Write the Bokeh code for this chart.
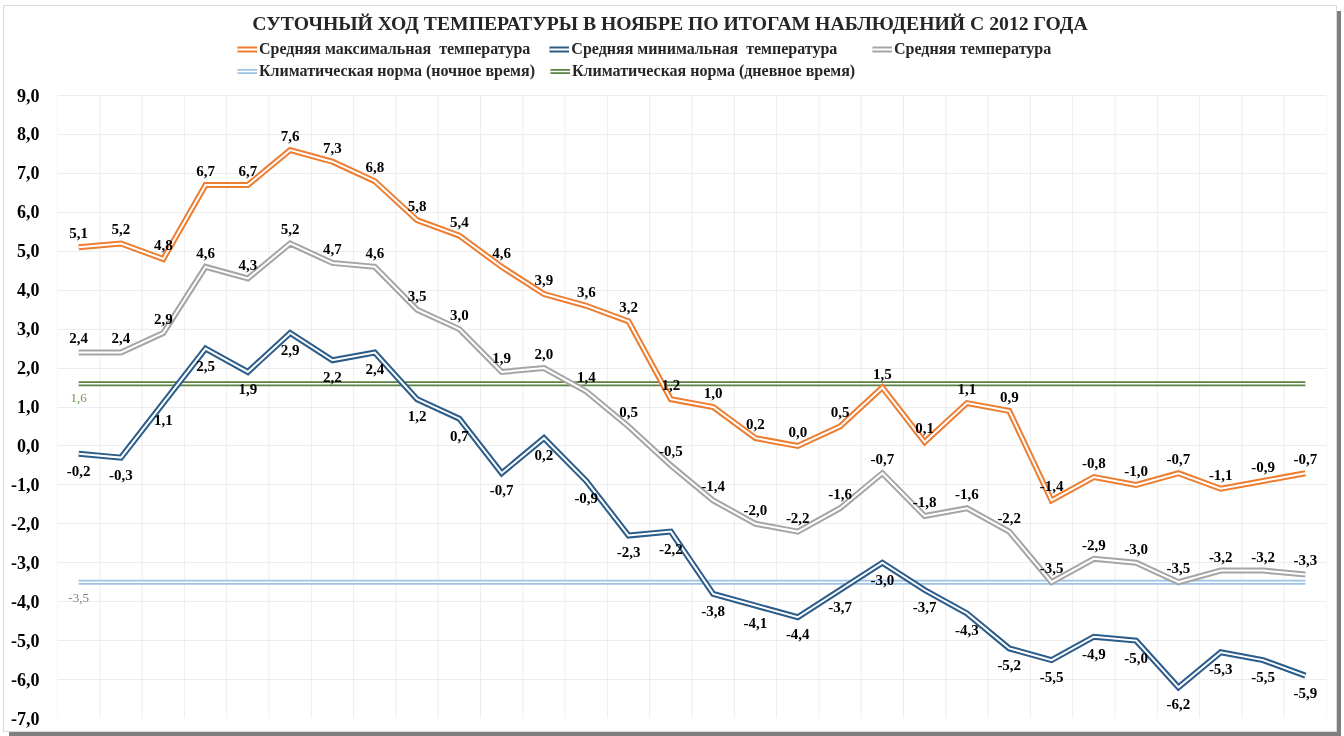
from bokeh.plotting import figure
from bokeh.models import (Range1d, FixedTicker, CustomJSTickFormatter, Legend, LegendItem)
from bokeh.core.properties import value
from bokeh.embed import file_html
from bokeh.resources import INLINE

days = list(range(1, 31))
t_max = [5.1, 5.2, 4.8, 6.7, 6.7, 7.6, 7.3, 6.8, 5.8, 5.4, 4.6, 3.9, 3.6, 3.2, 1.2,
         1.0, 0.2, 0.0, 0.5, 1.5, 0.1, 1.1, 0.9, -1.4, -0.8, -1.0, -0.7, -1.1, -0.9, -0.7]
t_min = [-0.2, -0.3, 1.1, 2.5, 1.9, 2.9, 2.2, 2.4, 1.2, 0.7, -0.7, 0.2, -0.9, -2.3, -2.2,
         -3.8, -4.1, -4.4, -3.7, -3.0, -3.7, -4.3, -5.2, -5.5, -4.9, -5.0, -6.2, -5.3, -5.5, -5.9]
t_mean = [2.4, 2.4, 2.9, 4.6, 4.3, 5.2, 4.7, 4.6, 3.5, 3.0, 1.9, 2.0, 1.4, 0.5, -0.5,
          -1.4, -2.0, -2.2, -1.6, -0.7, -1.8, -1.6, -2.2, -3.5, -2.9, -3.0, -3.5, -3.2, -3.2, -3.3]
norm_night_value = -3.5
norm_day_value = 1.6
norm_night = [norm_night_value] * len(days)
norm_day = [norm_day_value] * len(days)
y_ticks = [-7, -6, -5, -4, -3, -2, -1, 0, 1, 2, 3, 4, 5, 6, 7, 8, 9]

TITLE = "СУТОЧНЫЙ ХОД ТЕМПЕРАТУРЫ В НОЯБРЕ ПО ИТОГАМ НАБЛЮДЕНИЙ С 2012 ГОДА"
names = ["Средняя максимальная  температура", "Средняя минимальная  температура",
         "Средняя температура", "Климатическая норма (ночное время)",
         "Климатическая норма (дневное время)"]

C_MAX = "#ED7D31"
C_MIN = "#2B5C8A"
C_MEAN = "#A5A5A5"
C_NIGHT = "#9DC3E6"
C_DAY = "#5B8040"
SERIF = "Liberation Serif"

def fmt(v):
    return f"{v:.1f}".replace(".", ",")

W, H = 1332, 725
ML, MR, MT, MB = 53, 10, 0, 13
PX_PER_UNIT = 623 / 16
ymax = 9 + (89 - MT) / PX_PER_UNIT
x0, x1 = 0.5, 30.5

p = figure(width=W, height=H, x_range=Range1d(x0, x1), y_range=Range1d(-7, ymax),
           title=None, output_backend="svg", toolbar_location=None,
           min_border_left=ML, min_border_right=MR, min_border_top=MT, min_border_bottom=MB,
           outline_line_color=None, background_fill_color="white", border_fill_color="white")
p.styles = {"position": "fixed", "left": "4px", "top": "6px",
            "outline": "1px solid #d9d9d9", "box-shadow": "5px 5px 0 #7f7f7f"}

p.xaxis.visible = False
p.xgrid.visible = False
p.yaxis.ticker = FixedTicker(ticks=y_ticks)
p.yaxis.formatter = CustomJSTickFormatter(code="return '  ' + tick.toFixed(1).replace('.', ',');")
p.yaxis.axis_line_color = None
p.yaxis.major_tick_line_color = None
p.yaxis.minor_tick_line_color = None
p.yaxis.major_label_standoff = 3
p.yaxis.major_label_text_font = SERIF
p.yaxis.major_label_text_font_style = "bold"
p.yaxis.major_label_text_font_size = "18px"
p.yaxis.major_label_text_color = "#000000"
p.ygrid.ticker = FixedTicker(ticks=y_ticks)
p.ygrid.grid_line_color = "#ededed"
p.ygrid.grid_line_width = 1

# chart title (drawn at the top of the canvas)
p.text(x=[(x0 + x1) / 2], y=[ymax], text=[TITLE], x_offset=-22, y_offset=16,
       text_font=value(SERIF), text_font_style="bold", text_font_size="19.7px",
       text_align="center", text_baseline="middle", text_color="#262626")

# vertical category gridlines (between days)
bounds = [d - 0.5 for d in days] + [days[-1] + 0.5]
p.segment(x0=bounds, y0=[y_ticks[0]] * len(bounds), x1=bounds, y1=[y_ticks[-1]] * len(bounds),
          line_color="#ededed", line_width=1)

def double_line(ys, color, w_out=6, w_in=2):
    a = p.line(days, ys, line_color=color, line_width=w_out, line_join="miter")
    b = p.line(days, ys, line_color="white", line_width=w_in, line_join="miter")
    return [a, b]

r_night = double_line(norm_night, C_NIGHT, 5, 1.5)
r_day = double_line(norm_day, C_DAY, 5, 1.5)
r_mean = double_line(t_mean, C_MEAN)
r_min = double_line(t_min, C_MIN)
r_max = double_line(t_max, C_MAX)

lab_kw = dict(text_font=value(SERIF), text_font_style="bold", text_font_size="15px",
              text_align="center", text_baseline="middle", text_color="#000000")
p.text(days, t_max, text=[fmt(v) for v in t_max], y_offset=-14, **lab_kw)
p.text(days, t_mean, text=[fmt(v) for v in t_mean], y_offset=-14, **lab_kw)
p.text(days, t_min, text=[fmt(v) for v in t_min], y_offset=17, **lab_kw)

norm_kw = dict(text_font=value(SERIF), text_font_size="13px", text_align="center",
               text_baseline="middle")
p.text(days[:1], norm_day[:1], text=[fmt(norm_day_value)], y_offset=14,
       text_color="#6E9A4E", **norm_kw)
p.text(days[:1], norm_night[:1], text=[fmt(norm_night_value)], y_offset=16,
       text_color="#808080", **norm_kw)

frame_h = H - MT - MB
leg_kw = dict(orientation="horizontal", padding=0, margin=0, border_line_color=None,
              background_fill_alpha=0, glyph_width=20, glyph_height=20, label_height=20,
              label_standoff=2, label_text_font=SERIF, label_text_font_style="bold",
              label_text_font_size="16px", label_text_color="#262626")
leg1 = Legend(items=[LegendItem(label=names[0], renderers=r_max),
                     LegendItem(label=names[1], renderers=r_min)],
              location=(180, frame_h - 53), spacing=19, **leg_kw)
leg1b = Legend(items=[LegendItem(label=names[2], renderers=r_mean)],
               location=(815, frame_h - 53), spacing=0, **leg_kw)
leg2 = Legend(items=[LegendItem(label=names[3], renderers=r_night),
                     LegendItem(label=names[4], renderers=r_day)],
              location=(180, frame_h - 75), spacing=15, **leg_kw)
p.add_layout(leg1)
p.add_layout(leg1b)
p.add_layout(leg2)

open("out.html", "w").write(file_html(p, INLINE))
